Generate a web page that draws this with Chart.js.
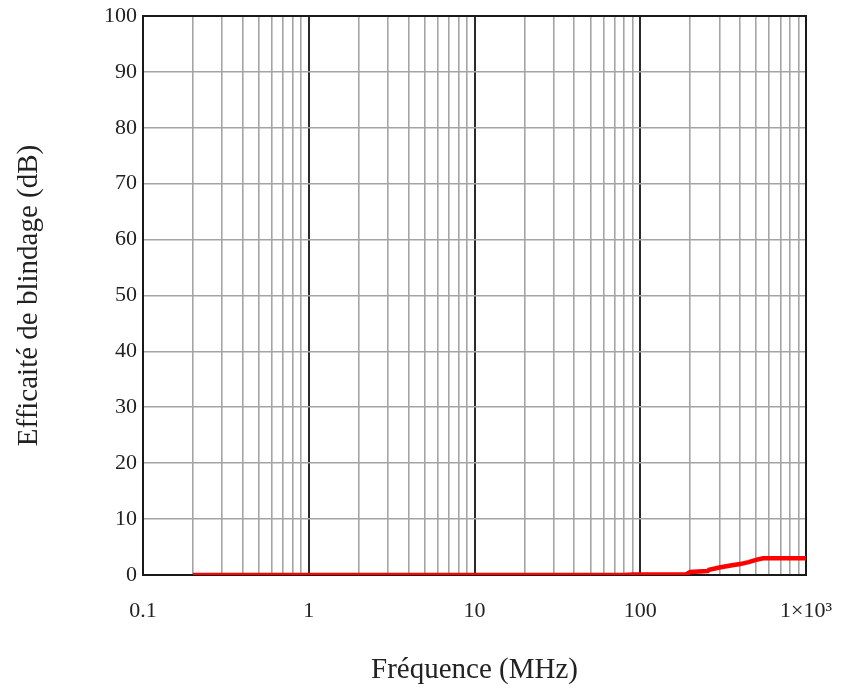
<!DOCTYPE html>
<html>
<head>
<meta charset="utf-8">
<script src="https://cdn.jsdelivr.net/npm/chart.js@4/dist/chart.umd.min.js"></script>
<style>
  html, body { margin: 0; padding: 0; background: #ffffff; }
  #wrap { width: 843px; height: 691px; position: relative; }
</style>
</head>
<body>
<div id="wrap"><canvas id="c" width="843" height="691"></canvas></div>
<script>
// ---- data ----
const frequencyMHz = [0.2, 1, 10, 80, 90, 190, 200, 255, 260, 300, 350, 400, 450, 500, 550, 1000];
const shieldingDB  = [0, 0, 0, 0, 0.1, 0.15, 0.55, 0.7, 0.95, 1.35, 1.7, 1.95, 2.3, 2.7, 3.0, 3.0];

const xTickValues = [0.1, 1, 10, 100, 1000];
const xTickLabels = ['0.1', '1', '10', '100', '1\u00d710\u00b3'];
const yTickValues = [0, 10, 20, 30, 40, 50, 60, 70, 80, 90, 100];

const xTitle = 'Fréquence (MHz)';
const yTitle = 'Efficaité de blindage (dB)';

const serif = '"Liberation Serif", "DejaVu Serif", serif';

// minor log ticks (1..9 per decade) for grid lines
function logGridTicks() {
  const t = [];
  for (let d = 0; d < xTickValues.length - 1; d++) {
    const base = xTickValues[d];
    for (let k = 1; k <= 9; k++) t.push({ value: +(base * k).toPrecision(6) });
  }
  t.push({ value: xTickValues[xTickValues.length - 1] });
  return t;
}
function isDecade(v) {
  return xTickValues.some(d => Math.abs(d - v) / d < 1e-6);
}

const borderPlugin = {
  id: 'frame',
  beforeDatasetsDraw(chart) {
    const a = chart.chartArea, ctx = chart.ctx;
    ctx.save();
    ctx.strokeStyle = '#1a1a1a';
    ctx.lineWidth = 2;
    ctx.strokeRect(a.left, a.top, a.right - a.left, a.bottom - a.top);
    ctx.restore();
  }
};

new Chart(document.getElementById('c'), {
  type: 'line',
  data: {
    datasets: [{
      data: frequencyMHz.map((f, i) => ({ x: f, y: shieldingDB[i] })),
      borderColor: '#ff0000',
      borderWidth: 4.5,
      pointRadius: 0,
      tension: 0,
      fill: false
    }]
  },
  options: {
    responsive: false,
    animation: false,
    layout: { padding: { left: 0, right: 37, top: 16, bottom: 0 } },
    plugins: { legend: { display: false }, tooltip: { enabled: false } },
    scales: {
      x: {
        type: 'logarithmic',
        min: 0.1,
        max: 1000,
        afterBuildTicks(scale) { scale.ticks = logGridTicks(); },
        afterFit(scale) { scale.height = 116; scale.paddingLeft = 0; scale.paddingRight = 0; },
        border: { display: true, color: '#1a1a1a', width: 2 },
        grid: {
          drawTicks: false,
          color: ctx => (ctx.tick && isDecade(ctx.tick.value)) ? '#2a2a2a' : '#a4a4a4',
          lineWidth: ctx => (ctx.tick && isDecade(ctx.tick.value)) ? 2 : 1.6
        },
        ticks: {
          autoSkip: false,
          maxRotation: 0,
          padding: 23,
          color: '#222',
          font: { family: serif, size: 22 },
          callback(value) {
            const i = xTickValues.findIndex(d => Math.abs(d - value) / d < 1e-6);
            return i >= 0 ? xTickLabels[i] : '';
          }
        },
        title: {
          display: true,
          text: xTitle,
          color: '#222',
          font: { family: serif, size: 29 },
          padding: { top: 0, bottom: 3 }
        }
      },
      y: {
        type: 'linear',
        min: 0,
        max: 100,
        afterBuildTicks(scale) { scale.ticks = yTickValues.map(v => ({ value: v })); },
        afterFit(scale) { scale.width = 143; scale.paddingTop = 0; scale.paddingBottom = 0; },
        border: { display: true, color: '#1a1a1a', width: 2 },
        grid: {
          drawTicks: false,
          color: ctx => (ctx.tick && ctx.tick.value === 100) ? '#2a2a2a' : '#a4a4a4',
          lineWidth: 1.6
        },
        ticks: {
          padding: 6,
          color: '#222',
          font: { family: serif, size: 22 },
          callback: v => String(v)
        },
        title: {
          display: true,
          text: yTitle,
          color: '#222',
          font: { family: serif, size: 29 },
          padding: { top: 12, bottom: 0 }
        }
      }
    }
  },
  plugins: [borderPlugin]
});
</script>
</body>
</html>
